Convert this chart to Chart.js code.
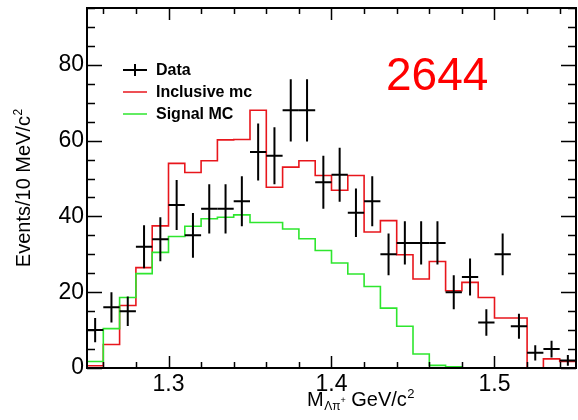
<!DOCTYPE html>
<html>
<head>
<meta charset="utf-8">
<script src="https://cdn.jsdelivr.net/npm/chart.js@4/dist/chart.umd.min.js"></script>
<style>
  html, body { margin: 0; padding: 0; background: #ffffff; }
  #c { display: block; }
</style>
</head>
<body>
<canvas id="c" width="578" height="420"></canvas>
<script>
// ---- data (bin low edges, 10 MeV bins) ----
const binLow = [1.25,1.26,1.27,1.28,1.29,1.30,1.31,1.32,1.33,1.34,
                1.35,1.36,1.37,1.38,1.39,1.40,1.41,1.42,1.43,1.44,
                1.45,1.46,1.47,1.48,1.49,1.50,1.51,1.52,1.53,1.54];
const binWidth = 0.01;
const dataCounts = [10,16,15,32,34,43,35,42,42,44,
                    57,56,68,68,49,51,41,44,30,33,
                    33,33,20,24,12,30,11,4,5,2];
const dataErrors = [3.2,4.0,3.9,5.7,5.8,6.6,5.9,6.5,6.5,6.6,
                    7.5,7.5,8.2,8.2,7.0,7.1,6.4,6.6,5.5,5.7,
                    5.7,5.7,4.5,4.9,3.5,5.5,3.3,2.0,2.2,1.4];
const inclusiveMC = [0.6,6.2,16.5,26.5,37.5,54.0,51.6,54.7,60.2,60.3,
                     68.0,47.7,53.0,54.7,50.8,46.9,50.8,35.9,38.9,29.9,
                     23.5,28.1,20.4,22.6,18.6,13.2,13.2,0,2.4,1.7];
const signalMC = [1.7,10.4,18.6,24.9,30.5,34.7,37.4,39.4,39.8,40.4,
                  38.4,38.4,36.7,34.1,31.0,27.7,24.8,21.5,15.8,11.0,
                  3.7,0.7,0.3,0,0,0,0,0,0,0];
const xTickLabels = [1.3, 1.4, 1.5];
const yTickLabels = [0, 20, 40, 60, 80];
const seriesNames = ['Data', 'Inclusive mc', 'Signal MC'];
const annotationText = '2644';

const FONT = '"Liberation Sans", Arial, Helvetica, sans-serif';
const RED = '#e8161c';
const GREEN = '#2ee62e';

function histPoints(vals) {
  const pts = binLow.map((x, i) => ({ x: x, y: vals[i] }));
  pts.push({ x: binLow[binLow.length - 1] + binWidth, y: vals[vals.length - 1] });
  return pts;
}

const customPlugin = {
  id: 'rootStyle',
  afterDatasetsDraw(chart) {
    const ctx = chart.ctx;
    const xs = chart.scales.x, ys = chart.scales.y;
    const ds = chart.data.datasets[0];
    ctx.save();
    ctx.beginPath();
    const a = chart.chartArea;
    ctx.rect(a.left, a.top, a.right - a.left, a.bottom - a.top);
    ctx.clip();
    ctx.strokeStyle = '#000';
    ctx.lineWidth = 2;
    ds.data.forEach((p, i) => {
      const e = ds.errorBars[i];
      const px = xs.getPixelForValue(p.x);
      const py = ys.getPixelForValue(p.y);
      ctx.beginPath();
      ctx.moveTo(xs.getPixelForValue(p.x - binWidth / 2), py);
      ctx.lineTo(xs.getPixelForValue(p.x + binWidth / 2), py);
      ctx.moveTo(px, ys.getPixelForValue(p.y - e));
      ctx.lineTo(px, ys.getPixelForValue(p.y + e));
      ctx.stroke();
    });
    ctx.restore();
  },
  afterDraw(chart) {
    const ctx = chart.ctx;
    const a = chart.chartArea;
    const xs = chart.scales.x, ys = chart.scales.y;
    ctx.save();
    // frame
    ctx.strokeStyle = '#000';
    ctx.lineWidth = 2;
    ctx.strokeRect(a.left, a.top, a.right - a.left, a.bottom - a.top);
    // inward ticks
    ctx.lineWidth = 1.5;
    ctx.beginPath();
    for (let k = 0; k <= 14; k++) {
      const v = 1.26 + k * 0.02;
      const major = Math.abs(v * 10 - Math.round(v * 10)) < 1e-6;
      const px = Math.round(xs.getPixelForValue(v)) + 0.5;
      const len = major ? 12 : 6;
      ctx.moveTo(px, a.bottom); ctx.lineTo(px, a.bottom - len);
      ctx.moveTo(px, a.top); ctx.lineTo(px, a.top + len);
    }
    for (let v = 0; v <= ys.max; v += 5) {
      const major = v % 20 === 0;
      const py = Math.round(ys.getPixelForValue(v)) + 0.5;
      const len = major ? 15 : 8;
      ctx.moveTo(a.left, py); ctx.lineTo(a.left + len, py);
      ctx.moveTo(a.right, py); ctx.lineTo(a.right - len, py);
    }
    ctx.stroke();

    // legend
    const legY = [70, 92, 114];
    const lx0 = 123, lx1 = 147;
    const sets = chart.data.datasets;
    ctx.lineWidth = 2;
    ctx.strokeStyle = '#000';
    ctx.beginPath();
    ctx.moveTo(lx0, legY[0]); ctx.lineTo(lx1, legY[0]);
    ctx.moveTo((lx0 + lx1) / 2, legY[0] - 6); ctx.lineTo((lx0 + lx1) / 2, legY[0] + 6);
    ctx.stroke();
    [1, 2].forEach(j => {
      ctx.strokeStyle = sets[j].borderColor;
      ctx.lineWidth = 1.5;
      ctx.beginPath();
      ctx.moveTo(lx0, legY[j]); ctx.lineTo(lx1, legY[j]);
      ctx.stroke();
    });
    ctx.fillStyle = '#000';
    ctx.font = 'bold 16px ' + FONT;
    ctx.textBaseline = 'middle';
    ctx.textAlign = 'left';
    sets.forEach((s, j) => ctx.fillText(s.label, 156, legY[j] + 1));

    // big number
    ctx.fillStyle = '#ff0000';
    ctx.font = '46px ' + FONT;
    ctx.textBaseline = 'alphabetic';
    ctx.fillText(annotationText, 386, 90);

    // x title
    ctx.fillStyle = '#000';
    let x = 307;
    const base = 406;
    ctx.font = '20px ' + FONT;
    ctx.fillText('M', x, base); x += ctx.measureText('M').width + 0.5;
    ctx.font = '12px ' + FONT;
    ctx.fillText('Λπ', x, base + 4); x += ctx.measureText('Λπ').width;
    ctx.font = '9px ' + FONT;
    ctx.fillText('+', x, base - 3); x += ctx.measureText('+').width;
    ctx.font = '20px ' + FONT;
    ctx.fillText(' GeV/c', x, base); x += ctx.measureText(' GeV/c').width;
    ctx.font = '13px ' + FONT;
    ctx.fillText('2', x + 0.5, base - 8);

    // y title (centred on the plot height)
    ctx.save();
    ctx.font = '20px ' + FONT;
    const w = ctx.measureText('Events/10 MeV/c').width;
    ctx.font = '12px ' + FONT;
    const w2 = ctx.measureText('2').width;
    const total = w + 0.5 + w2;
    const yc = (a.top + a.bottom) / 2;
    ctx.translate(30, yc + total / 2);
    ctx.rotate(-Math.PI / 2);
    ctx.textAlign = 'left';
    ctx.font = '20px ' + FONT;
    ctx.fillText('Events/10 MeV/c', 0, 0);
    ctx.font = '12px ' + FONT;
    ctx.fillText('2', w + 0.5, -8);
    ctx.restore();

    ctx.restore();
  }
};

new Chart(document.getElementById('c'), {
  type: 'scatter',
  data: {
    datasets: [
      {
        label: seriesNames[0],
        type: 'scatter',
        data: binLow.map((x, i) => ({ x: x + binWidth / 2, y: dataCounts[i] })),
        errorBars: dataErrors,
        pointRadius: 0,
        pointHoverRadius: 0,
        showLine: false,
        borderColor: '#000',
        backgroundColor: '#000',
        order: 0
      },
      {
        label: seriesNames[1],
        type: 'line',
        data: histPoints(inclusiveMC),
        stepped: 'before',
        borderColor: RED,
        borderWidth: 1.6,
        pointRadius: 0,
        fill: false,
        order: 2
      },
      {
        label: seriesNames[2],
        type: 'line',
        data: histPoints(signalMC),
        stepped: 'before',
        borderColor: GREEN,
        borderWidth: 1.6,
        pointRadius: 0,
        fill: false,
        order: 1
      }
    ]
  },
  options: {
    responsive: false,
    animation: false,
    devicePixelRatio: 1,
    layout: { padding: { top: 8, right: 2, left: 0, bottom: 0 } },
    plugins: { legend: { display: false }, tooltip: { enabled: false } },
    scales: {
      x: {
        type: 'linear',
        min: 1.25,
        max: 1.55,
        afterBuildTicks: s => { s.ticks = xTickLabels.map(v => ({ value: v })); },
        afterFit: s => { s.height = 52; s.paddingLeft = 0; s.paddingRight = 0; },
        grid: { display: false, drawTicks: false },
        border: { display: false },
        ticks: {
          padding: 3,
          color: '#000',
          font: { family: FONT, size: 23 },
          maxRotation: 0,
          callback: v => Number(v).toFixed(1)
        }
      },
      y: {
        type: 'linear',
        min: 0,
        max: 95,
        afterBuildTicks: s => { s.ticks = yTickLabels.map(v => ({ value: v })); },
        afterFit: s => { s.width = 87; s.paddingTop = 0; s.paddingBottom = 0; },
        grid: { display: false, drawTicks: false },
        border: { display: false },
        ticks: {
          padding: 3,
          color: '#000',
          font: { family: FONT, size: 23 },
          callback: v => String(v)
        }
      }
    }
  },
  plugins: [customPlugin]
});
</script>
</body>
</html>
